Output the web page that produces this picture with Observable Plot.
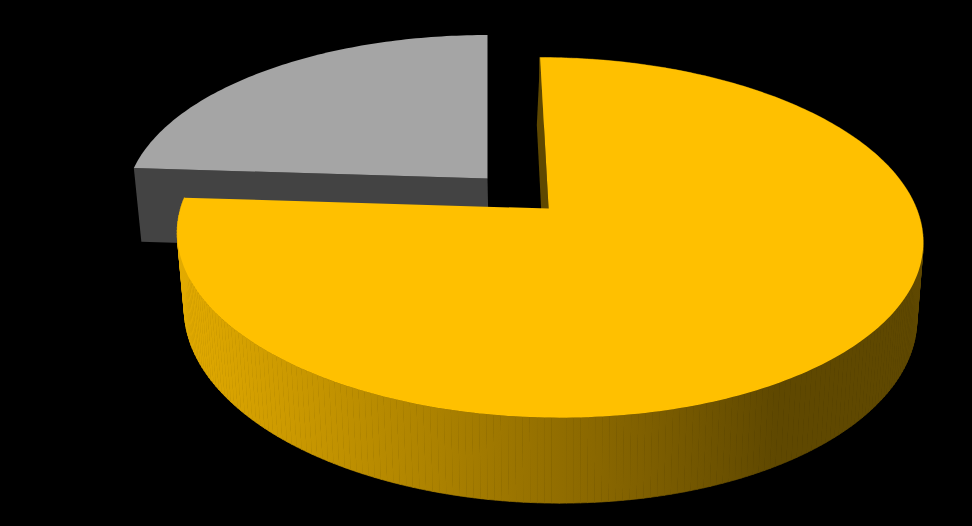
<!DOCTYPE html>
<html>
<head>
<meta charset="utf-8">
<style>html,body{margin:0;padding:0;background:#000;overflow:hidden}svg{display:block}</style>
<script src="https://cdn.jsdelivr.net/npm/d3@7"></script>
<script src="https://cdn.jsdelivr.net/npm/@observablehq/plot@0.6"></script>
</head>
<body>
<div id="chart"></div>
<script>
// Data
const categories = ["Yellow share", "Grey share"];
const values = [76, 24];
const topColors = ["#FFC000", "#A5A5A5"];
const wallStops = [[0, "#E3AB00"], [0.35, "#AB8100"], [0.62, "#806000"], [0.8, "#5F4800"], [1, "#5F4800"]];

// 3D view of the pie
const view = {x0: 487, y0: 208, A: 368, B: 175.4, p: 0.161, q: 0.018, D: 77, baseShift: 1.5};
const centre = {u: 0.083, v: -0.088}, explode = 0.1213;

const project = (u, v, low) => {
  const w = 1 - view.p * v + (low ? view.q : 0);
  return {x: view.x0 + view.A * u / w + (low ? view.baseShift : 0), y: view.y0 + (view.B * v + (low ? view.D : 0)) / w};
};

const total = d3.sum(values);
let acc = 0;
const slices = categories.map((name, i) => {
  const a0 = acc / total * 2 * Math.PI;
  acc += values[i];
  const a1 = acc / total * 2 * Math.PI;
  const mid = (a0 + a1) / 2;
  const cu = centre.u + explode * Math.sin(mid);
  const cv = centre.v - explode * Math.cos(mid);
  return {name, a0, a1, cu, cv, color: topColors[i]};
});

const rim = (s, low) => {
  const n = Math.ceil((s.a1 - s.a0) * 60);
  return d3.range(n + 1).map(k => {
    const a = s.a0 + (s.a1 - s.a0) * k / n;
    return project(s.cu + Math.sin(a), s.cv - Math.cos(a), low);
  });
};
const topFace = s => [project(s.cu, s.cv, false), ...rim(s, false)];
// The side is cut into small quads so that the fold of the band cannot cancel its own fill
const sideQuads = s => {
  const t = rim(s, false), b = rim(s, true);
  return d3.range(t.length - 1).flatMap(k =>
    [t[k], t[k + 1], b[k + 1], b[k]].map(p => ({...p, k})));
};
const wedgeWall = (s, a, lean) => {
  const rimTop = project(s.cu + Math.sin(a), s.cv - Math.cos(a), false);
  const rimLow = project(s.cu + Math.sin(a), s.cv - Math.cos(a), true);
  const apexTop = project(s.cu, s.cv, false);
  const apexLow = project(s.cu, s.cv, true);
  return [apexTop, rimTop, {x: rimLow.x - lean, y: rimLow.y}, {x: apexLow.x - lean, y: apexLow.y}];
};

const [yellow, grey] = slices;
const poly = (pts, fill) => Plot.line(pts, {x: "x", y: "y", fill, stroke: "none", curve: "linear-closed"});

const defs = () => {
  const d = d3.create("svg:defs");
  const g = d.append("linearGradient").attr("id", "wallGrad").attr("gradientUnits", "userSpaceOnUse")
    .attr("x1", 178).attr("x2", 924).attr("y1", 0).attr("y2", 0);
  wallStops.forEach(([o, c]) => g.append("stop").attr("offset", o).attr("stop-color", c));
  return d.node();
};

const chart = Plot.plot({
  width: 972, height: 526,
  margin: 0,
  style: {background: "#000"},
  x: {domain: [0, 972], range: [0, 972], axis: null},
  y: {domain: [0, 526], range: [0, 526], axis: null},
  marks: [
    defs,
    poly(wedgeWall(grey, grey.a0, 0), "#434343"),
    poly(topFace(grey), grey.color),
    Plot.line(sideQuads(yellow), {x: "x", y: "y", z: "k", fill: "url(#wallGrad)", stroke: "url(#wallGrad)", strokeWidth: 0.7, curve: "linear-closed"}),
    poly(wedgeWall(yellow, yellow.a0, 4), "#5F4800"),
    poly(topFace(yellow), yellow.color)
  ]
});
document.getElementById("chart").append(chart);
</script>
</body>
</html>
